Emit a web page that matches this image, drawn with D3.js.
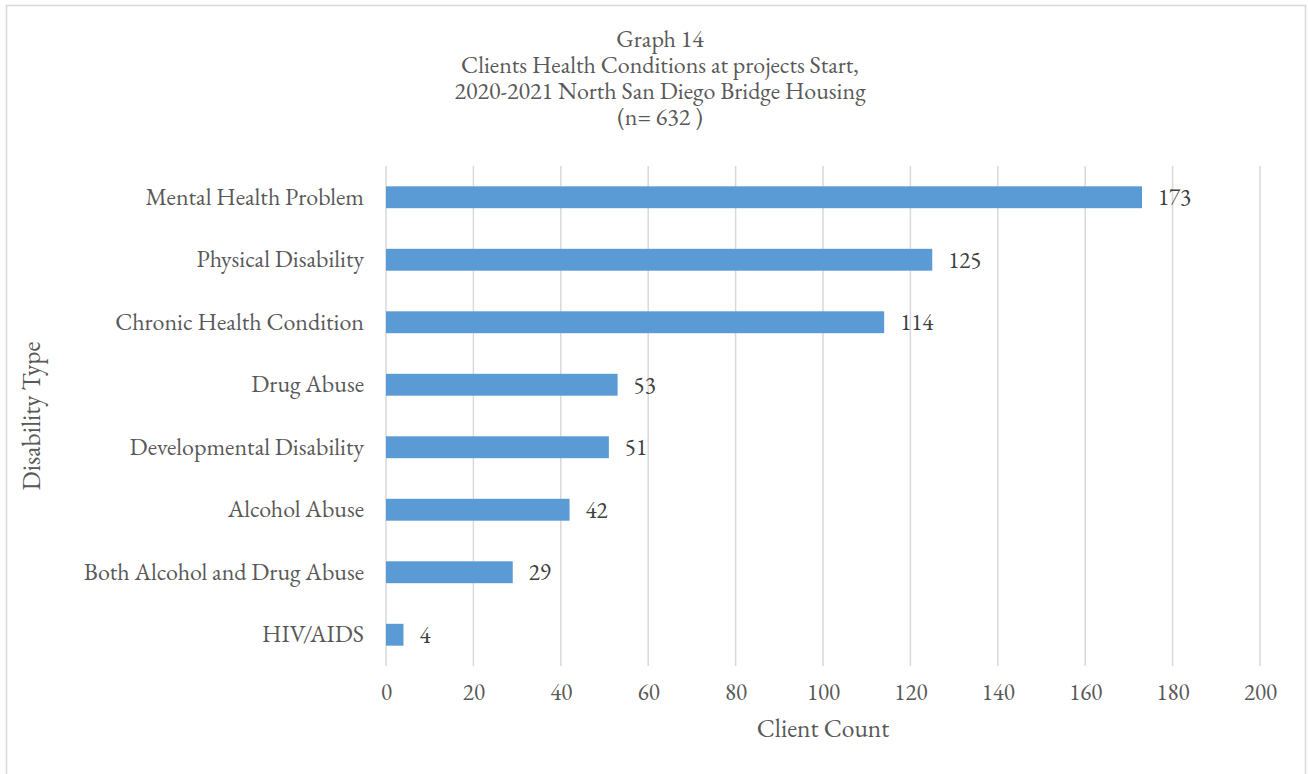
<!DOCTYPE html>
<html>
<head>
<meta charset="utf-8">
<script src="https://cdn.jsdelivr.net/npm/d3@7"></script>
<style>
  html, body { margin: 0; padding: 0; background: #fff; }
  svg text { font-family: "EB Garamond", Garamond, "Liberation Serif", "Times New Roman", serif; }
</style>
</head>
<body>
<svg id="chart" width="1308" height="774"></svg>
<script>
// Disability types, top to bottom
const categories = [
  "Mental Health Problem",
  "Physical Disability",
  "Chronic Health Condition",
  "Drug Abuse",
  "Developmental Disability",
  "Alcohol Abuse",
  "Both Alcohol and Drug Abuse",
  "HIV/AIDS"
];
const clientCounts = [173, 125, 114, 53, 51, 42, 29, 4];
const xTicks = [0, 20, 40, 60, 80, 100, 120, 140, 160, 180, 200];
const titleLines = [
  "Graph 14",
  "Clients Health Conditions at projects Start,",
  "2020-2021 North San Diego Bridge Housing",
  "(n= 632 )"
];

const svg = d3.select("#chart");
const plot = { left: 386, right: 1260, top: 166, bottom: 666 };
const textColor = "#595959";

// Chart frame
svg.append("rect")
  .attr("x", 6.5).attr("y", 5.5)
  .attr("width", 1299).attr("height", 780)
  .attr("fill", "#fff").attr("stroke", "#d9d9d9").attr("stroke-width", 1.5);

const x = d3.scaleLinear().domain([0, 200]).range([plot.left, plot.right]);
const y = d3.scaleBand().domain(categories).range([plot.top, plot.bottom]).paddingInner(0.65).paddingOuter(0.325);

// Vertical gridlines
svg.append("g").selectAll("line").data(xTicks).join("line")
  .attr("x1", d => x(d)).attr("x2", d => x(d))
  .attr("y1", plot.top).attr("y2", plot.bottom)
  .attr("stroke", "#d9d9d9").attr("stroke-width", 1.5);

// Bars
svg.append("g").selectAll("rect").data(categories).join("rect")
  .attr("x", x(0))
  .attr("y", d => y(d))
  .attr("width", (d, i) => x(clientCounts[i]) - x(0))
  .attr("height", y.bandwidth())
  .attr("fill", "#5b9bd5");

// Value labels
svg.append("g").selectAll("text").data(categories).join("text")
  .attr("x", (d, i) => x(clientCounts[i]) + 16)
  .attr("y", d => y(d) + y.bandwidth() / 2)
  .attr("dy", "0.35em")
  .attr("font-size", 23)
  .attr("fill", "#404040")
  .text((d, i) => clientCounts[i]);

// Category labels
const yAxis = svg.append("g")
  .attr("transform", `translate(${plot.left},0)`)
  .call(d3.axisLeft(y).tickSize(0).tickPadding(22));
yAxis.select(".domain").remove();
yAxis.selectAll("text")
  .attr("font-size", 24)
  .attr("fill", textColor)
  .attr("font-family", null);

// X tick labels
const xAxis = svg.append("g")
  .attr("transform", `translate(0,${plot.bottom})`)
  .call(d3.axisBottom(x).tickValues(xTicks).tickSize(0).tickPadding(18));
xAxis.select(".domain").remove();
xAxis.selectAll("text")
  .attr("font-size", 23)
  .attr("fill", textColor);
xAxis.attr("font-family", null);
yAxis.attr("font-family", null);

// Axis titles
svg.append("text")
  .attr("x", (plot.left + plot.right) / 2)
  .attr("y", 737)
  .attr("text-anchor", "middle")
  .attr("font-size", 25.5)
  .attr("fill", textColor)
  .text("Client Count");

svg.append("text")
  .attr("transform", `translate(40,${(plot.top + plot.bottom) / 2}) rotate(-90)`)
  .attr("text-anchor", "middle")
  .attr("font-size", 25.5)
  .attr("fill", textColor)
  .text("Disability Type");

// Title block
svg.append("g").selectAll("text").data(titleLines).join("text")
  .attr("x", 660)
  .attr("y", (d, i) => 47 + i * 26)
  .attr("text-anchor", "middle")
  .attr("font-size", 24)
  .attr("fill", textColor)
  .text(d => d);
</script>
</body>
</html>
